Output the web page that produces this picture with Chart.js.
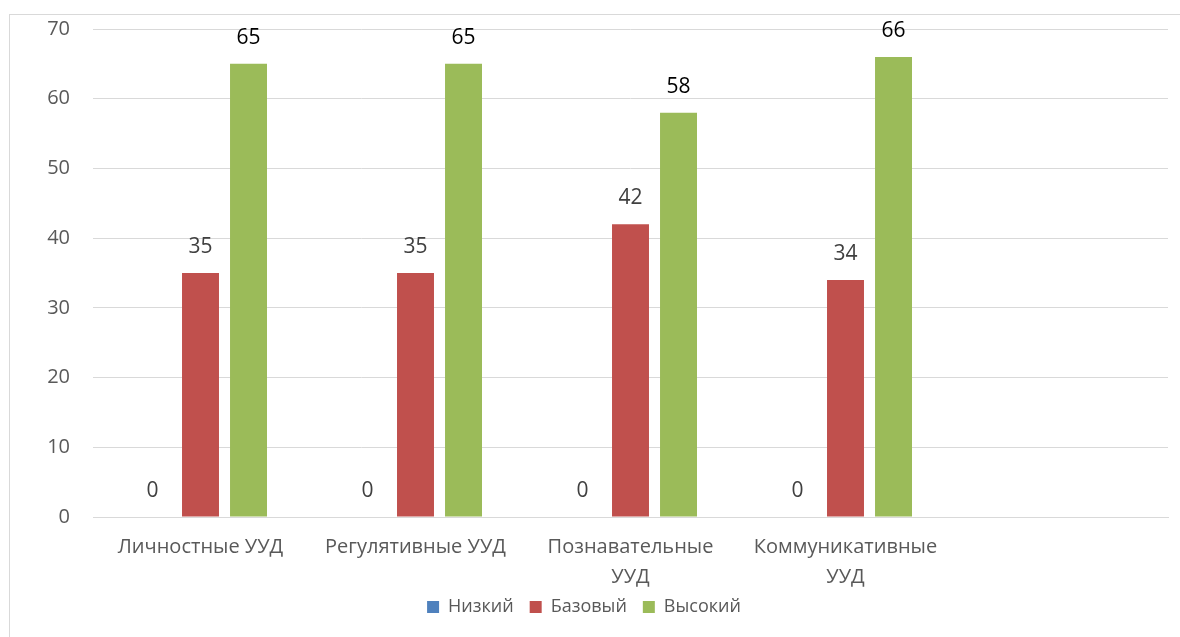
<!DOCTYPE html>
<html>
<head>
<meta charset="utf-8">
<script src="https://cdn.jsdelivr.net/npm/chart.js@4"></script>
<style>
  html, body { margin: 0; padding: 0; background: #fff; }
  #wrap { position: relative; width: 1180px; height: 637px; overflow: hidden; }
  #frame { position: absolute; left: 9px; top: 14px; width: 1200px; height: 700px; border: 1px solid #d9d9d9; box-sizing: border-box; }
  canvas { position: absolute; left: 0; top: 0; }
</style>
</head>
<body>
<div id="wrap">
  <div id="frame"></div>
  <canvas id="c" width="1180" height="637"></canvas>
</div>
<script>
const categories = [["Личностные УУД"], ["Регулятивные УУД"], ["Познавательные", "УУД"], ["Коммуникативные", "УУД"], ""];
const seriesNames = ["Низкий", "Базовый", "Высокий"];
const lowValues = [0, 0, 0, 0];
const baseValues = [35, 35, 42, 34];
const highValues = [65, 65, 58, 66];
const yTicks = [0, 10, 20, 30, 40, 50, 60, 70];

const FONT = "'Open Sans', 'Noto Sans', sans-serif";
const labelColors = ["#404040", "#404040", "#000000"];

const labelPlugin = {
  id: 'valueLabels',
  afterDatasetsDraw(chart) {
    const ctx = chart.ctx;
    ctx.save();
    ctx.font = "21px " + FONT;
    ctx.textAlign = "center";
    ctx.textBaseline = "middle";
    chart.data.datasets.forEach((ds, i) => {
      const meta = chart.getDatasetMeta(i);
      ctx.fillStyle = labelColors[i];
      meta.data.forEach((bar, j) => {
        const v = ds.data[j];
        if (v === null || v === undefined) return;
        ctx.fillText(String(v), bar.x, bar.y - 26);
      });
    });
    ctx.restore();
  }
};

new Chart(document.getElementById('c'), {
  type: 'bar',
  data: {
    labels: categories,
    datasets: [
      { label: seriesNames[0], data: lowValues, backgroundColor: '#4f81bd' },
      { label: seriesNames[1], data: baseValues, backgroundColor: '#c0504d' },
      { label: seriesNames[2], data: highValues, backgroundColor: '#9bbb59' }
    ]
  },
  options: {
    responsive: false,
    animation: false,
    devicePixelRatio: 1,
    layout: { padding: { left: 0, right: 12, top: 0, bottom: 11 } },
    datasets: { bar: { categoryPercentage: 0.67, barPercentage: 0.77 } },
    plugins: {
      legend: {
        position: 'bottom',
        labels: {
          boxWidth: 12, boxHeight: 12, padding: 16,
          color: '#595959',
          font: { family: FONT, size: 18 }
        }
      },
      tooltip: { enabled: false }
    },
    scales: {
      x: {
        afterFit(scale) {
          scale.height = 65;
          scale._computeLabelArea = function () { return undefined; };
        },
        grid: { display: false },
        border: { color: '#d9d9d9' },
        ticks: { color: '#595959', font: { family: FONT, size: 20, lineHeight: 1.5 }, maxRotation: 0, autoSkip: false, padding: 7 }
      },
      y: {
        min: 0, max: 70,
        afterBuildTicks(scale) { scale.ticks = yTicks.map(v => ({ value: v })); },
        afterFit(scale) { scale.width = 93; },
        grid: { color: '#d9d9d9', drawTicks: false },
        border: { display: false },
        ticks: { color: '#595959', font: { family: FONT, size: 20, lineHeight: 0.6 }, padding: 23 }
      }
    }
  },
  plugins: [labelPlugin]
});
</script>
</body>
</html>
